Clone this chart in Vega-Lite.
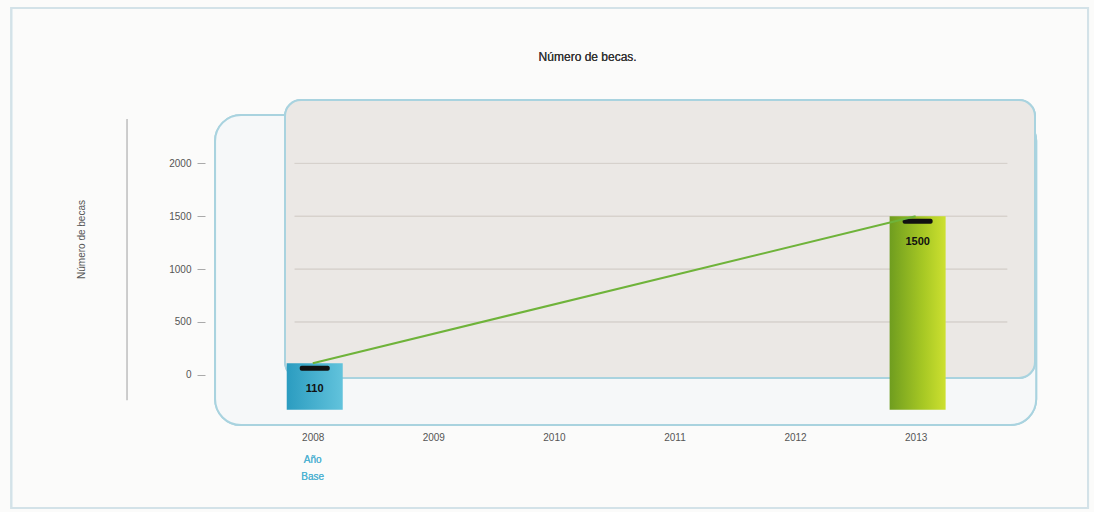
{
  "$schema": "https://vega.github.io/schema/vega-lite/v6.json",
  "width": 750,
  "height": 278,
  "autosize": "none",
  "padding": {"left": 285, "top": 100, "right": 59, "bottom": 134},
  "background": "#fbfbfa",
  "config": {
    "view": {"fill": null, "stroke": null},
    "font": "Liberation Sans"
  },
  "data": {"values": [
    {"year": 2008, "value": 110},
    {"year": 2013, "value": 1500}
  ]},
  "encoding": {
    "x": {"field": "year", "type": "quantitative", "scale": {"domain": [2007.77, 2013.99], "nice": false, "zero": false, "padding": 0},
      "axis": {"values": [2008, 2009, 2010, 2011, 2012, 2013], "format": "d", "title": null, "grid": false, "domain": false, "ticks": false, "offset": 50, "labelPadding": 4, "labelFontSize": 10, "labelColor": "#555"}},
    "y": {"field": "value", "type": "quantitative", "scale": {"domain": [-30, 2600], "nice": false, "zero": false, "padding": 0},
      "axis": {"values": [0, 500, 1000, 1500, 2000], "format": "d", "title": "Número de becas", "titleFontSize": 10, "titleFontWeight": "normal", "titleColor": "#555", "titlePadding": 82, "offset": 80, "tickSize": 8, "tickColor": "#aaa", "labelPadding": 6, "labelFontSize": 10, "labelColor": "#555", "domain": false, "grid": false}}
  },
  "layer": [
    {
      "mark": {"type": "rect", "fill": null, "stroke": "#d3e2e8", "strokeWidth": 2},
      "encoding": {
        "x": {"datum": 2005.5}, "x2": {"datum": 2014.43},
        "y": {"datum": 3470}, "y2": {"datum": -1260}
      }
    },
    {
      "mark": {"type": "text", "fontSize": 12, "color": "#333"},
      "encoding": {
        "x": {"datum": 2010.28},
        "y": {"datum": 3010},
        "text": {"value": "Número de becas."}
      }
    },
    {
      "mark": {"type": "rect", "fill": "#f6f8f9", "stroke": "#a9d3df", "strokeWidth": 2, "cornerRadius": 26},
      "encoding": {
        "x": {"datum": 2007.19}, "x2": {"datum": 2014.0},
        "y": {"datum": 2458}, "y2": {"datum": -475}
      }
    },
    {
      "mark": {"type": "rect", "fill": "#ebe8e5", "stroke": "#a9d3df", "strokeWidth": 2, "cornerRadius": 16},
      "encoding": {
        "x": {"datum": 2007.77}, "x2": {"datum": 2013.99},
        "y": {"datum": 2600}, "y2": {"datum": -30}
      }
    },
    {
      "mark": {"type": "rule", "color": "#d6d1cc", "strokeWidth": 1},
      "encoding": {"x": {"datum": 2007.85}, "x2": {"datum": 2013.76}, "y": {"datum": 500}}
    },
    {
      "mark": {"type": "rule", "color": "#d6d1cc", "strokeWidth": 1},
      "encoding": {"x": {"datum": 2007.85}, "x2": {"datum": 2013.76}, "y": {"datum": 1000}}
    },
    {
      "mark": {"type": "rule", "color": "#d6d1cc", "strokeWidth": 1},
      "encoding": {"x": {"datum": 2007.85}, "x2": {"datum": 2013.76}, "y": {"datum": 1500}}
    },
    {
      "mark": {"type": "rule", "color": "#d6d1cc", "strokeWidth": 1},
      "encoding": {"x": {"datum": 2007.85}, "x2": {"datum": 2013.76}, "y": {"datum": 2000}}
    },
    {
      "mark": {"type": "rule", "color": "#bdbdbd", "strokeWidth": 1},
      "encoding": {
        "x": {"datum": 2006.46},
        "y": {"datum": 2420}, "y2": {"datum": -240}
      }
    },
    {
      "mark": {"type": "bar", "size": 56, "xOffset": 2},
      "encoding": {
        "y2": {"datum": -330},
        "fill": {
          "condition": {"test": "datum.year == 2008", "value": {"gradient": "linear", "x1": 0, "y1": 0, "x2": 1, "y2": 0, "stops": [{"offset": 0, "color": "#2b9cc0"}, {"offset": 1, "color": "#62c3dc"}]}},
          "value": {"gradient": "linear", "x1": 0, "y1": 0, "x2": 1, "y2": 0, "stops": [{"offset": 0, "color": "#6f9d1f"}, {"offset": 0.6, "color": "#a7c824"}, {"offset": 1, "color": "#cde030"}]}
        }
      }
    },
    {
      "mark": {"type": "tick", "orient": "horizontal", "color": "#111", "thickness": 5, "size": 30, "cornerRadius": 2, "opacity": 1, "yOffset": 5, "xOffset": 2},
      "encoding": {}
    },
    {
      "mark": {"type": "line", "color": "#6fb33a", "strokeWidth": 2},
      "encoding": {}
    },
    {
      "mark": {"type": "text", "fontWeight": "bold", "fontSize": 11, "color": "#111", "dy": 26, "dx": 2},
      "encoding": {"text": {"field": "value", "type": "quantitative", "format": "d"}}
    },
    {
      "mark": {"type": "text", "color": "#4fb2d2", "fontSize": 10, "lineHeight": 17, "baseline": "top"},
      "encoding": {
        "x": {"datum": 2008},
        "y": {"datum": -760},
        "text": {"value": ["Año", "Base"]}
      }
    }
  ]
}
